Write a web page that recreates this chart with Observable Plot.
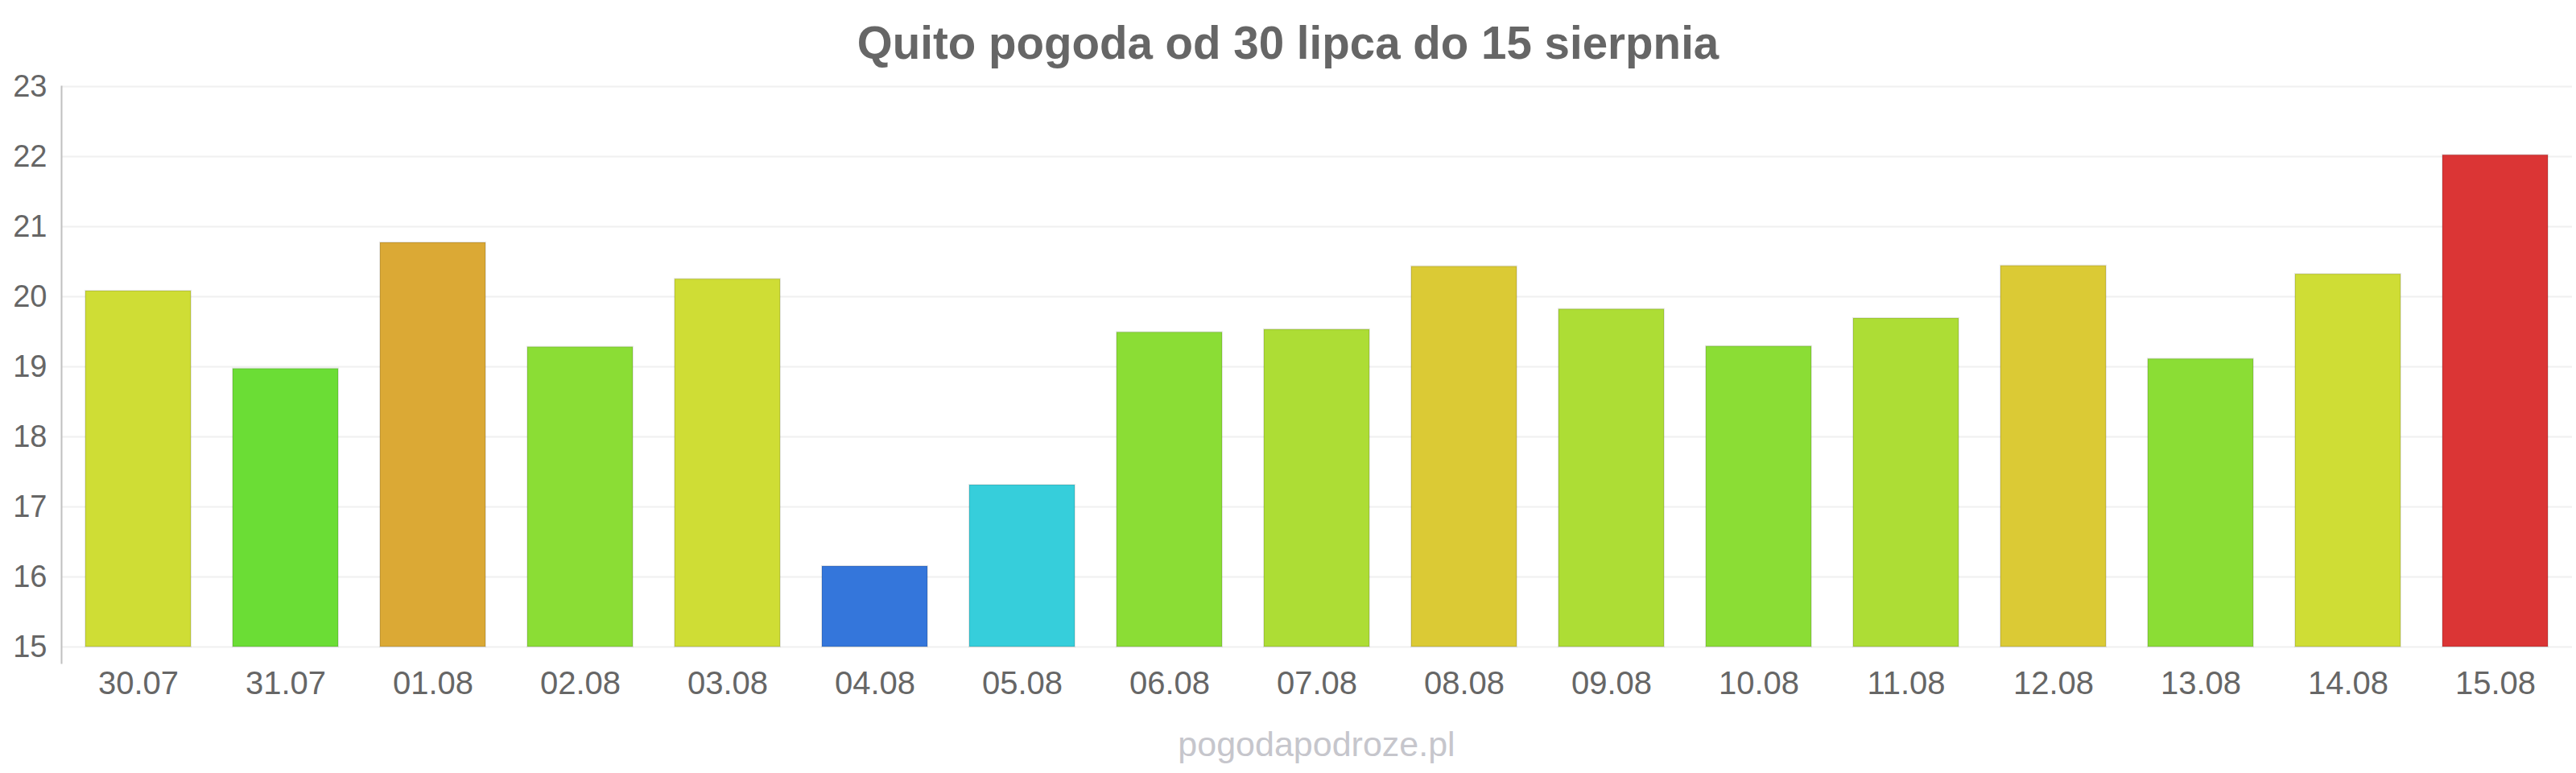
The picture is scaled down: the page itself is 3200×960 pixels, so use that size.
<!DOCTYPE html>
<html>
<head>
<meta charset="utf-8">
<script src="https://cdn.jsdelivr.net/npm/d3@7"></script>
<script src="https://cdn.jsdelivr.net/npm/@observablehq/plot@0.6"></script>
<style>
  html, body { margin: 0; padding: 0; background: #ffffff; }
  body { width: 3200px; height: 960px; overflow: hidden; font-family: "Liberation Sans", Arial, sans-serif; }
  #title { font-size: 56.5px; font-weight: bold; color: #666666; text-align: center; line-height: 64px; padding-top: 22px; height: 64px; }
  #chart svg { display: block; }
  #caption { font-size: 43px; color: #c6c6cc; text-align: center; line-height: 50px; margin-top: 13px; margin-left: 76px; width: 3119px; }
</style>
</head>
<body>
<div id="title">Quito pogoda od 30 lipca do 15 sierpnia</div>
<div id="chart"></div>
<div id="caption">pogodapodroze.pl</div>
<script>
// Data
const dates = ["30.07", "31.07", "01.08", "02.08", "03.08", "04.08", "05.08", "06.08", "07.08",
               "08.08", "09.08", "10.08", "11.08", "12.08", "13.08", "14.08", "15.08"];
const temps = [20.08, 18.97, 20.77, 19.28, 20.25, 16.15, 17.31, 19.49, 19.53,
               20.43, 19.82, 19.29, 19.69, 20.44, 19.11, 20.32, 22.02];
const yTicks = [15, 16, 17, 18, 19, 20, 21, 22, 23];
const baseline = 15;

// Temperature colour bands (threshold scale)
const colorThresholds = [16.5, 18, 19, 19.5, 20, 20.4, 20.6, 21.5];
const colorRange = ["#3476db", "#36cedb", "#6bdd35", "#8bdd35", "#addd35", "#cfdd35", "#dbca35", "#dba935", "#db3535"];

const data = dates.map((d, i) => ({date: d, temp: temps[i]}));

const chart = Plot.plot({
  width: 3200,
  height: 800,
  marginTop: 21,
  marginBottom: 63,
  marginLeft: 76,
  marginRight: 5,
  style: {fontFamily: "'Liberation Sans', Arial, sans-serif", background: "#ffffff", color: "#666666"},
  x: {domain: dates, paddingInner: 0.285, paddingOuter: 0.1425, label: null},
  y: {domain: [14.77, 23], label: null},
  color: {type: "threshold", domain: colorThresholds, range: colorRange},
  marks: [
    Plot.gridY(yTicks, {stroke: "#f0f0f0", strokeOpacity: 1, strokeWidth: 2}),
    Plot.barY(data, {x: "date", y1: baseline, y2: "temp", fill: "temp", stroke: "#000000", strokeOpacity: 0.1, strokeWidth: 2}),
    Plot.frame({anchor: "left", stroke: "#c0c0c0", strokeWidth: 2}),
    Plot.axisY(yTicks, {tickSize: 0, tickPadding: 18, fontSize: 38, label: null, fill: "#666666", tickFormat: d => String(d)}),
    Plot.axisX({tickSize: 0, tickPadding: 10, fontSize: 40, label: null, fill: "#666666"})
  ]
});
document.getElementById("chart").appendChild(chart);
</script>
</body>
</html>
